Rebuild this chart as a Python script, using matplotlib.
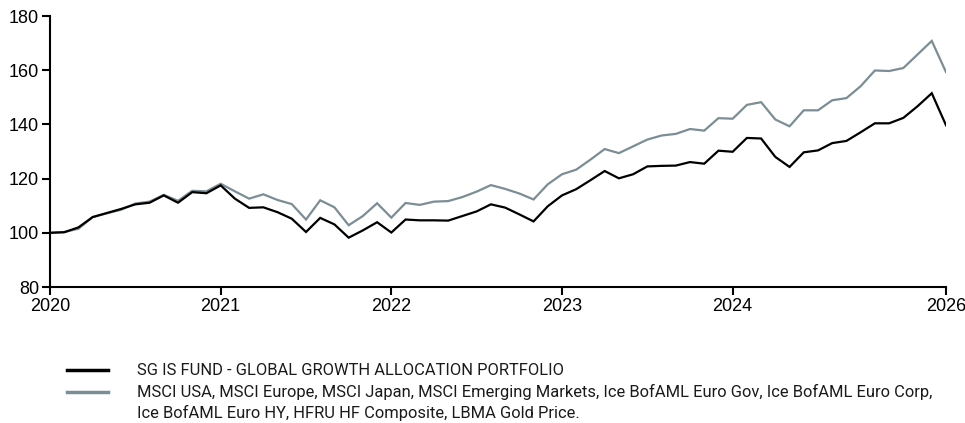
import matplotlib
matplotlib.use("Agg")
import matplotlib.pyplot as plt
from matplotlib.lines import Line2D

# monthly index values, Jan 2020 onwards
fund = [100.0, 100.2, 102.0, 105.8, 107.3, 108.8, 110.5, 111.1, 113.8, 111.1, 115.0, 114.6,
        117.5, 112.6, 109.2, 109.4, 107.6, 105.2, 100.3, 105.5, 103.1, 98.2, 100.9, 103.9,
        100.1, 104.9, 104.6, 104.6, 104.5, 106.2, 107.9, 110.5, 109.3, 106.8, 104.2, 109.8,
        113.8, 116.1, 119.4, 122.8, 120.1, 121.6, 124.5, 124.7, 124.8, 126.1, 125.5, 130.3,
        129.9, 135.0, 134.8, 128.0, 124.3, 129.7, 130.4, 133.1, 133.9, 137.1, 140.4, 140.4,
        142.4, 146.7, 151.5, 139.7]
bench = [100.0, 100.3, 101.5, 105.8, 107.2, 108.5, 110.8, 111.5, 114.0, 111.8, 115.5, 115.3,
         118.1, 115.3, 112.6, 114.2, 112.1, 110.6, 104.9, 112.0, 109.4, 102.8, 106.2, 110.9,
         105.6, 111.0, 110.3, 111.5, 111.7, 113.2, 115.2, 117.6, 116.2, 114.5, 112.3, 117.9,
         121.6, 123.3, 127.0, 130.9, 129.4, 131.9, 134.4, 135.9, 136.5, 138.3, 137.7, 142.3,
         142.1, 147.2, 148.2, 141.8, 139.3, 145.2, 145.2, 148.9, 149.7, 154.1, 159.9, 159.7,
         160.8, 165.8, 170.8, 159.3]
tick_pos = [0, 12, 24, 36, 48, 63]
tick_labels = ["2020", "2021", "2022", "2023", "2024", "2026"]
legend_labels = ["SG IS FUND - GLOBAL GROWTH ALLOCATION PORTFOLIO",
                 "MSCI USA, MSCI Europe, MSCI Japan, MSCI Emerging Markets, Ice BofAML Euro Gov, Ice BofAML Euro Corp,\n"
                 "Ice BofAML Euro HY, HFRU HF Composite, LBMA Gold Price."]

BLACK = "#000000"
GREY = "#7b8d95"

plt.rcParams["font.family"] = ["Liberation Sans", "DejaVu Sans"]

fig = plt.figure(figsize=(9.65, 4.23), dpi=100)
ax = fig.add_axes([50 / 965, 1 - 287 / 423, 896 / 965, 271 / 423])

x = list(range(len(fund)))
ax.plot(x, bench, color=GREY, lw=1.6, solid_joinstyle="miter")
ax.plot(x, fund, color=BLACK, lw=1.6, solid_joinstyle="miter")

ax.set_xlim(0, 63)
ax.set_ylim(80, 180)
ax.set_yticks([80, 100, 120, 140, 160, 180])
ax.set_xticks(tick_pos)
ax.set_xticklabels(tick_labels)
for s in ["top", "right"]:
    ax.spines[s].set_visible(False)
for s in ["left", "bottom"]:
    ax.spines[s].set_linewidth(1.5)
ax.tick_params(axis="both", labelsize=13, length=6, width=1.5, pad=2)
ax.patch.set_visible(False)

# legend drawn by hand below the plot
txt_font = ["Roboto", "DejaVu Sans"]
row_y = [370, 392, 413]
fig.add_artist(Line2D([67 / 965, 108 / 965], [1 - row_y[0] / 423] * 2, color=BLACK, lw=2.5,
                      transform=fig.transFigure))
fig.add_artist(Line2D([67 / 965, 108 / 965], [1 - row_y[1] / 423] * 2, color=GREY, lw=2.5,
                      transform=fig.transFigure))
lines = [legend_labels[0]] + legend_labels[1].split("\n")
for y, t in zip(row_y, lines):
    fig.text(137 / 965, 1 - y / 423, t, fontsize=11.9, family=txt_font,
             va="center", ha="left", color="#1a1a1a")

fig.savefig("out.png", dpi=100)
